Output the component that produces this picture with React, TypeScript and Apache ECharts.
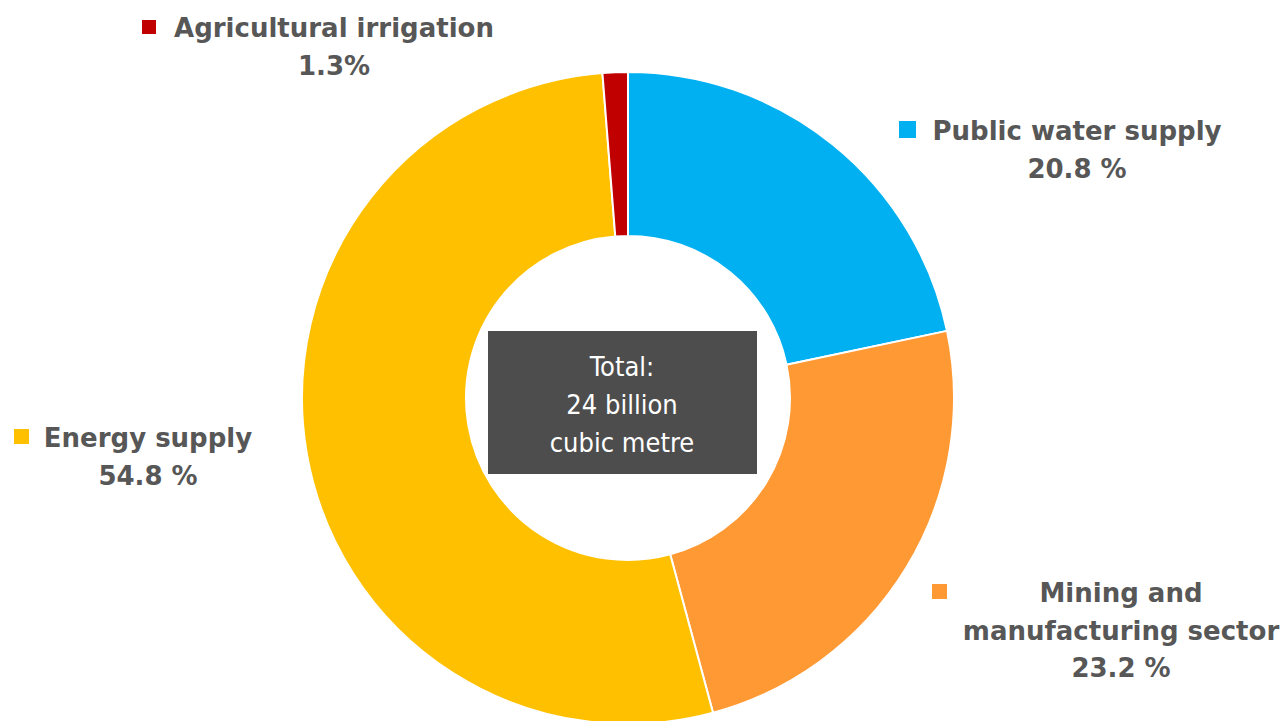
import React, { useEffect, useRef } from "react";
import * as echarts from "echarts";

// Categories in clockwise order starting at 12 o'clock
const categories = [
  "Public water supply",
  "Mining and manufacturing sector",
  "Energy supply",
  "Agricultural irrigation",
];
// Slice sizes as drawn in the picture (share of the ring, %)
const sliceValues = [21.7, 24.1, 52.95, 1.25];
// Percentages printed in the labels
const labelShares = ["20.8 %", "23.2 %", "54.8 %", "1.3%"];
// Label name lines as printed
const labelNameLines = [
  ["Public water supply"],
  ["Mining and", "manufacturing sector"],
  ["Energy supply"],
  ["Agricultural irrigation"],
];
const colors = ["#00B0F0", "#FF9933", "#FFC000", "#C00000"];
const centerLines = ["Total:", "24 billion", "cubic metre"];

// label layout (positions only)
const labelLayout = [
  { cx: 1077, y0: 131, mx: 899, my: 121, ms: 17 },
  { cx: 1121, y0: 593, mx: 932, my: 584, ms: 15 },
  { cx: 148, y0: 438, mx: 14, my: 429, ms: 15 },
  { cx: 334, y0: 28, mx: 142, my: 20, ms: 14 },
];

const TEXT_COLOR = "#575757";
const LABEL_FONT = "bold 26px 'DejaVu Sans', Verdana, sans-serif";

export default function App() {
  const ref = useRef<HTMLDivElement>(null);

  useEffect(() => {
    document.body.style.margin = "0";
    if (!ref.current) return;
    const chart = echarts.init(ref.current, undefined, { renderer: "svg" });

    const graphics: any[] = [];
    categories.forEach((_, i) => {
      const L = labelLayout[i];
      graphics.push({
        type: "rect",
        shape: { x: L.mx, y: L.my, width: L.ms, height: L.ms },
        style: { fill: colors[i] },
        silent: true,
      });
      const lines = [...labelNameLines[i], labelShares[i]];
      lines.forEach((t, j) => {
        graphics.push({
          type: "text",
          x: L.cx,
          y: L.y0 + j * 37.5,
          style: {
            text: t,
            font: LABEL_FONT,
            fill: TEXT_COLOR,
            align: "center",
            verticalAlign: "middle",
          },
          silent: true,
        });
      });
    });

    graphics.push({
      type: "rect",
      shape: { x: 488, y: 331, width: 269, height: 143 },
      style: { fill: "#4D4D4D" },
      silent: true,
      z: 10,
    });
    centerLines.forEach((t, j) => {
      graphics.push({
        type: "text",
        x: 622,
        y: 366 + j * 38,
        z: 11,
        style: {
          text: t,
          font: "500 27px 'DejaVu Sans Condensed', 'DejaVu Sans', sans-serif",
          fill: "#FFFFFF",
          align: "center",
          verticalAlign: "middle",
        },
        silent: true,
      });
    });

    chart.setOption({
      animation: false,
      backgroundColor: "#FFFFFF",
      series: [
        {
          type: "pie",
          center: [628, 398],
          radius: [162, 326],
          startAngle: 90,
          clockwise: true,
          avoidLabelOverlap: false,
          label: { show: false },
          labelLine: { show: false },
          emphasis: { disabled: true },
          silent: true,
          itemStyle: { borderColor: "#FFFFFF", borderWidth: 2 },
          data: categories.map((name, i) => ({
            name,
            value: sliceValues[i],
            itemStyle: { color: colors[i] },
          })),
        },
      ],
      graphic: graphics,
    });

    return () => chart.dispose();
  }, []);

  return <div ref={ref} style={{ width: 1286, height: 721 }} />;
}
